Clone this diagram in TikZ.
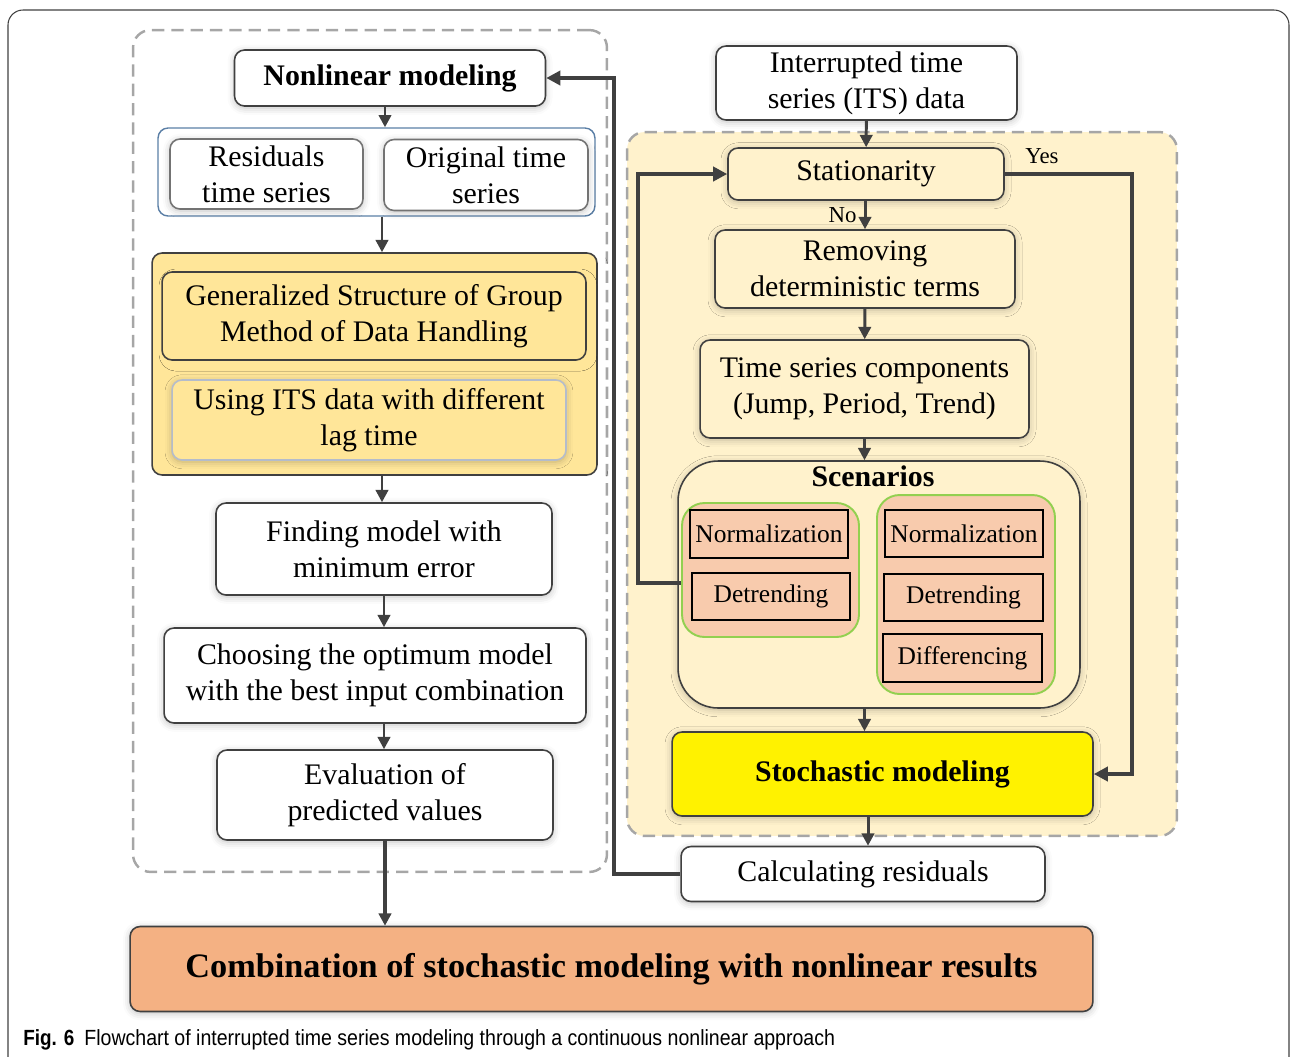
\documentclass[tikz,border=0pt]{standalone}
\usepackage{fontspec}
\usepackage{graphicx}
\setmainfont{Liberation Serif}
\newfontfamily\capfont{Liberation Sans}
\usetikzlibrary{arrows.meta, positioning, shadows.blur}

\definecolor{linegray}{HTML}{404040}
\definecolor{dashgray}{HTML}{A6A6A6}
\definecolor{gmdhfill}{HTML}{FFE699}
\definecolor{stfill}{HTML}{FFF2CC}
\definecolor{scenfill}{HTML}{F8CBAD}
\definecolor{scenedge}{HTML}{92D050}
\definecolor{combofill}{HTML}{F4B183}
\definecolor{inputedge}{HTML}{5B7FA6}
\definecolor{lagedge}{HTML}{B4BCCB}

\begin{document}
\begin{tikzpicture}[
    x=0.02cm, y=-0.02cm,
    box/.style={rectangle, draw=linegray, line width=0.9pt, fill=white,
                rounded corners=0.2cm, align=center, inner sep=2pt,
                font=\fontsize{17}{20.5}\selectfont,
                blur shadow={shadow xshift=0pt, shadow yshift=-1pt,
                             shadow blur radius=4pt, shadow opacity=25}},
    panel/.style={rectangle, draw=dashgray, dashed, dash pattern=on 7pt off 4pt,
                  line width=1.4pt, rounded corners=0.35cm},
    scenbox/.style={rectangle, draw=black, line width=1.2pt, fill=scenfill,
                    font=\fontsize{14.5}{17}\selectfont, inner sep=1pt},
    scengrp/.style={rectangle, draw=scenedge, line width=1.1pt, fill=scenfill,
                    rounded corners=0.45cm},
    arrow/.style={-{Triangle[length=7pt, width=7pt]}, line width=1.7pt, draw=linegray},
    loop/.style={-{Triangle[length=8pt, width=8pt]}, line width=2.6pt, draw=linegray},
    lbl/.style={font=\fontsize{13}{15}\selectfont, inner sep=1pt}
]
    \useasboundingbox (0,0) rectangle (1291,1056);
    \draw[line width=0.6pt, draw=black!75, rounded corners=0.3cm]
        (8,1070) -- (8,10) -- (1289,10) -- (1289,1070);

    % dashed panels
    \node[panel, minimum width=9.48cm, minimum height=16.84cm] (nlpanel) at (370,451) {};
    \node[panel, fill=stfill, minimum width=11cm, minimum height=14.08cm] (stpanel) at (902,484) {};

    % nonlinear branch
    \node[box, font=\fontsize{17}{20.5}\selectfont\bfseries,
          minimum width=6.22cm, minimum height=1.12cm] (nonlin) at (390,78)
        {Nonlinear modeling};
    \node[rectangle, draw=inputedge, line width=0.8pt, rounded corners=0.2cm,
          minimum width=8.74cm, minimum height=1.76cm] (inputs) at (376.5,172) {};
    \node[box, draw=black!55, minimum width=3.86cm, minimum height=1.4cm] (resid) at (266.5,174)
        {Residuals\\time series};
    \node[box, draw=black!55, minimum width=4.08cm, minimum height=1.42cm] (orig) at (486,175)
        {Original time\\series};

    \node[box, fill=gmdhfill, blur shadow={shadow opacity=0},
          minimum width=8.9cm, minimum height=4.44cm] (gmdhgrp) at (374.5,364) {};
    \node[box, fill=gmdhfill, blur shadow={shadow opacity=0},
          minimum width=8.48cm, minimum height=1.76cm] (gmdh) at (374,316)
        {Generalized Structure of Group\\Method of Data Handling};
    \node[box, fill=gmdhfill, draw=lagedge,
          minimum width=7.88cm, minimum height=1.6cm] (lag) at (369,420)
        {Using ITS data with different\\lag time};

    \node[box, minimum width=6.72cm, minimum height=1.84cm] (finding) at (384,549)
        {Finding model with\\minimum error};
    \node[box, minimum width=8.44cm, minimum height=1.9cm] (choosing) at (375,675.5)
        {Choosing the optimum model\\with the best input combination};
    \node[box, minimum width=6.72cm, minimum height=1.8cm] (evaluation) at (385,795)
        {Evaluation of\\predicted values};

    % stochastic branch
    \node[box, minimum width=6.02cm, minimum height=1.48cm] (its) at (866.5,83)
        {Interrupted time\\series (ITS) data};
    \node[box, fill=stfill, minimum width=5.52cm, minimum height=1.04cm] (station) at (866,174)
        {Stationarity};
    \node[box, fill=stfill, minimum width=6cm, minimum height=1.56cm] (removing) at (865,269)
        {Removing\\deterministic terms};
    \node[box, fill=stfill, minimum width=6.58cm, minimum height=1.96cm] (comps) at (864.5,389)
        {Time series components\\(Jump, Period, Trend)};
    \node[box, fill=stfill, rounded corners=0.8cm,
          minimum width=8.04cm, minimum height=4.94cm] (scen) at (879,584.5) {};
    \node[font=\fontsize{17}{20.5}\selectfont\bfseries, inner sep=0pt] (scentitle) at (873,476)
        {Scenarios};

    \node[scengrp, minimum width=3.54cm, minimum height=2.68cm] (sgl) at (770.5,570) {};
    \node[scenbox, minimum width=3.16cm, minimum height=0.96cm] (norma) at (769,534) {Normalization};
    \node[scenbox, minimum width=3.16cm, minimum height=0.94cm] (detra) at (771,596.5) {Detrending};

    \node[scengrp, minimum width=3.56cm, minimum height=3.98cm] (sgr) at (966,594.5) {};
    \node[scenbox, minimum width=3.16cm, minimum height=0.94cm] (normb) at (964,533.5) {Normalization};
    \node[scenbox, minimum width=3.18cm, minimum height=0.94cm] (detrb) at (963.5,597.5) {Detrending};
    \node[scenbox, minimum width=3.18cm, minimum height=0.96cm] (diffb) at (962.5,658) {Differencing};

    \node[box, fill=yellow, font=\fontsize{17}{20.5}\selectfont\bfseries,
          minimum width=8.42cm, minimum height=1.68cm] (stoch) at (882.5,774)
        {Stochastic modeling};
    \node[box, minimum width=7.28cm, minimum height=1.1cm] (calc) at (863,874)
        {Calculating residuals};

    \node[box, fill=combofill, font=\fontsize{19.5}{23}\selectfont\bfseries,
          minimum width=19.26cm, minimum height=1.7cm] (combo) at (611.5,969)
        {Combination of stochastic modeling with nonlinear results};

    % connectors
    \draw[arrow] (nonlin.south -| 385,0) -- (inputs.north -| 385,0);
    \draw[arrow] (inputs.south -| 382,0) -- (gmdhgrp.north -| 382,0);
    \draw[arrow] (gmdhgrp.south -| 382,0) -- (finding.north -| 382,0);
    \draw[arrow] (finding.south) -- (finding.south |- choosing.north);
    \draw[arrow] (choosing.south -| 384,0) -- (evaluation.north -| 384,0);
    \draw[arrow, line width=2.2pt] (evaluation.south) -- (evaluation.south |- combo.north);

    \draw[arrow] (its) -- (station);
    \draw[arrow] (station.south -| removing) -- (removing.north)
        node[lbl, pos=0.5, left=3pt] (no) {No};
    \draw[arrow] (removing) -- (comps);
    \draw[arrow] (comps.south) -- (comps.south |- scen.north);
    \draw[arrow] (scen.south -| comps) -- (stoch.north -| comps);
    \draw[arrow] (stoch.south -| 868,0) -- (calc.north -| 868,0);

    \draw[loop] (station.east) -- (1132,174) |- (stoch.east);
    \node[lbl] (yes) at (1042,156) {Yes};
    \draw[loop] (sgl.west |- 0,583) -- (638,583) |- (station.west);
    \draw[loop] (calc.west) -- (614,874) |- (nonlin.east);

    % caption
    \node[anchor=west, inner sep=0pt] (capnum) at (23,1040)
        {\capfont\fontsize{12.5}{14}\selectfont\bfseries\scalebox{0.86}[1]{Fig. 6}};
    \node[anchor=west, inner sep=0pt] (captext) at (84,1040)
        {\capfont\fontsize{12.5}{14}\selectfont\scalebox{0.89}[1]{Flowchart of interrupted time series modeling through a continuous nonlinear approach}};
\end{tikzpicture}
\end{document}
